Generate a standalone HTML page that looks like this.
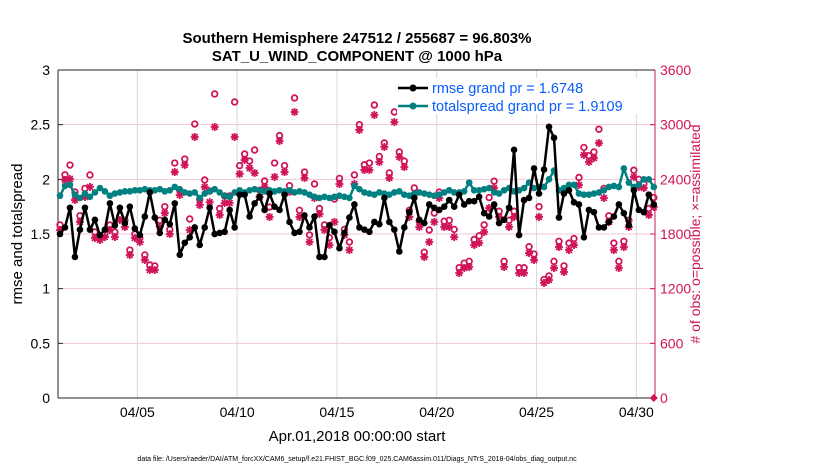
<!DOCTYPE html>
<html><head><meta charset="utf-8"><style>
body{margin:0;background:#fff}
svg{display:block;font-family:"Liberation Sans",sans-serif}
</style></head><body>
<svg id="chart" width="830" height="470" viewBox="0 0 830 470">
<rect width="830" height="470" fill="#fff"/>
<text x="357" y="43" text-anchor="middle" font-size="15" font-weight="bold">Southern Hemisphere 247512 / 255687 = 96.803%</text>
<text x="357" y="61" text-anchor="middle" font-size="15" font-weight="bold">SAT_U_WIND_COMPONENT @ 1000 hPa</text>
<g id="grid"></g>
<g id="axes"></g>
<g id="marks"></g>
<text transform="translate(22,234) rotate(-90)" text-anchor="middle" font-size="15">rmse and totalspread</text>
<text transform="translate(700,234) rotate(-90)" text-anchor="middle" font-size="14" fill="#d0145a"># of obs: o=possible; ×=assimilated</text>
<text x="357" y="441" text-anchor="middle" font-size="15">Apr.01,2018 00:00:00 start</text>
<text x="357" y="461" text-anchor="middle" font-size="7">data file: /Users/raeder/DAI/ATM_forcXX/CAM6_setup/f.e21.FHIST_BGC.f09_025.CAM6assim.011/Diags_NTrS_2018-04/obs_diag_output.nc</text>
<g id="legend">
<rect x="397" y="78" width="252" height="36" fill="#fff"/>
<line x1="398" y1="88" x2="428" y2="88" stroke="#000" stroke-width="2.5"/>
<circle cx="413" cy="88" r="3.5" fill="#000"/>
<text x="432" y="93" font-size="14.5" fill="#0a5cff">rmse grand pr = 1.6748</text>
<line x1="398" y1="106" x2="428" y2="106" stroke="#008080" stroke-width="2.5"/>
<circle cx="413" cy="106" r="3.5" fill="#008080"/>
<text x="432" y="111" font-size="14.5" fill="#0a5cff">totalspread grand pr = 1.9109</text>
</g>
</svg>
<script>
const tickDates = ["04/05","04/10","04/15","04/20","04/25","04/30"];
const tickDays = [4,9,14,19,24,29];
const leftTicks = [0,0.5,1,1.5,2,2.5,3];
const rightTicks = [0,600,1200,1800,2400,3000,3600];
const rmse = [1.50,1.56,1.74,1.29,1.54,1.74,1.54,1.63,1.49,1.54,1.78,1.58,1.74,1.60,1.75,1.55,1.49,1.66,1.88,1.65,
1.51,1.63,1.59,1.78,1.31,1.42,1.47,1.56,1.40,1.56,1.74,1.50,1.51,1.52,1.72,1.56,1.86,1.86,1.66,1.78,
1.84,1.72,1.87,1.75,1.72,1.86,1.61,1.51,1.52,1.67,1.56,1.66,1.29,1.29,1.58,1.52,1.37,1.51,1.65,1.77,
1.56,1.54,1.52,1.61,1.59,1.83,1.61,1.54,1.34,1.56,1.70,1.83,1.63,1.60,1.77,1.74,1.72,1.75,1.81,1.75,
1.86,1.77,1.80,1.80,1.84,1.69,1.66,1.77,1.60,1.63,1.74,2.27,1.49,1.81,1.83,2.10,1.87,2.09,2.48,2.38,
1.65,1.87,1.90,1.79,1.77,1.47,1.72,1.70,1.56,1.56,1.61,1.66,1.77,1.69,1.58,1.90,1.72,1.70,1.86,1.77];
const spread = [1.85,1.94,1.95,1.86,1.83,1.87,1.84,1.88,1.92,1.89,1.85,1.87,1.88,1.89,1.89,1.90,1.90,1.91,1.90,1.90,
1.91,1.89,1.90,1.93,1.91,1.88,1.87,1.88,1.83,1.87,1.89,1.91,1.88,1.85,1.84,1.88,1.90,1.88,1.90,1.91,
1.90,1.89,1.90,1.89,1.90,1.89,1.90,1.88,1.89,1.88,1.86,1.84,1.83,1.84,1.83,1.84,1.85,1.84,1.83,1.94,
1.91,1.88,1.87,1.86,1.88,1.87,1.86,1.88,1.89,1.86,1.85,1.87,1.88,1.87,1.86,1.85,1.86,1.88,1.90,1.88,
1.88,1.89,1.97,1.90,1.90,1.91,1.92,1.88,1.87,1.90,1.92,1.89,1.90,1.92,1.97,1.92,1.93,1.93,2.00,2.08,
1.90,1.92,1.95,1.95,1.87,1.86,1.86,1.87,1.88,1.90,1.93,1.94,1.93,2.10,1.97,1.93,1.95,2.00,2.00,1.93];
const assim = [1844,2393,2404,2173,1932,2206,2316,1756,1734,1767,1844,1767,1954,1877,1570,1756,1712,1515,1405,1405,
1877,2030,1800,2480,2228,2557,1844,2865,2118,2316,2150,2975,2009,2140,2140,2865,2459,2612,2524,2470,
2206,2316,1987,2426,2821,2480,2261,3139,1987,2415,1712,2195,2020,1844,1679,1932,2349,1789,1624,2349,
2942,2503,2503,3106,2590,2755,2415,3029,2645,2535,1987,2228,1877,1548,1712,1932,2195,1877,1877,1767,
1372,1427,1438,1679,1701,1822,2085,2305,1987,1438,1877,1987,1372,1372,1591,1515,1987,1262,1295,1427,
1657,1383,1624,1679,2338,2667,2590,2634,2799,2195,1932,1624,1427,1657,1877,2426,2316,2305,2009,2096];
const possible = [1900,2450,2557,2261,2000,2300,2448,1822,1780,1800,1899,1822,2000,1950,1624,1800,1760,1570,1460,1450,
1950,2100,1850,2579,2280,2623,1965,3007,2180,2393,2272,3337,2080,2217,2217,3249,2550,2678,2601,2722,
2280,2382,2096,2579,2880,2550,2330,3293,2060,2480,1790,2349,2080,1900,1760,2184,2410,1850,1712,2448,
3000,2560,2579,3216,2650,2799,2470,3139,2700,2600,2060,2305,1940,1600,1844,2030,2260,1940,1950,1850,
1430,1480,1500,1740,1780,1900,2200,2380,2050,1500,1950,2050,1430,1430,1660,1580,2100,1300,1340,1500,
1720,1450,1700,1750,2420,2750,2660,2700,2950,2300,2000,1700,1500,1720,1950,2500,2400,2350,2080,2200];

const NS='http://www.w3.org/2000/svg';
const L=58,R=655,T=70,B=398;
const xDay=d=>57.5+d*19.96;
const xIdx=i=>xDay(0.125+i*0.25);
const yL=v=>B-(v/3)*(B-T);
const yR=n=>B-(n/3600)*(B-T);
const red='#d0145a';
function mk(tag,attrs,parent){const e=document.createElementNS(NS,tag);for(const k in attrs)e.setAttribute(k,attrs[k]);parent.appendChild(e);return e;}
const grid=document.getElementById('grid'),axes=document.getElementById('axes'),marks=document.getElementById('marks');

rightTicks.forEach(t=>{
  const l=mk('line',{x1:L,x2:R,y1:yR(t),y2:yR(t),stroke:'#f3c6d8','stroke-width':1},grid);
  
  
  const tk=mk('line',{x1:R-5,x2:R,y1:yR(t),y2:yR(t),stroke:red,'stroke-width':1},axes);
  
  
  const tx=mk('text',{x:R+5,y:yR(t)+5,'font-size':14,fill:red},axes);
  tx.textContent=t;
  
  
});
tickDays.forEach((d,i)=>{
  const l=mk('line',{x1:xDay(d),x2:xDay(d),y1:T,y2:B,stroke:'#d8d8d8','stroke-width':1},grid);
  
  
  const tx=mk('text',{x:xDay(d),y:417,'font-size':14,'text-anchor':'middle'},axes);
  tx.textContent=tickDates[i];
  
  
});
leftTicks.forEach(t=>{
  const tk=mk('line',{x1:L,x2:L+5,y1:yL(t),y2:yL(t),stroke:'#222'},axes);
  
  
  const tx=mk('text',{x:L-8,y:yL(t)+5,'font-size':14,'text-anchor':'end'},axes);
  tx.textContent=t;
  
  
});
const la=mk('line',{x1:L,x2:L,y1:T,y2:B,stroke:'#222'},axes);


const ra=mk('line',{x1:R,x2:R,y1:T,y2:B,stroke:red},axes);


const ba=mk('line',{x1:L,x2:R,y1:B,y2:B,stroke:'#222'},axes);


const ta=mk('line',{x1:L,x2:R,y1:T,y2:T,stroke:'#222'},axes);



possible.forEach((n,i)=>{
  const c=mk('circle',{cx:xIdx(i),cy:yR(n),r:2.8,fill:'none',stroke:red,'stroke-width':1.8},marks);
  
  
});
assim.forEach((n,i)=>{
  const x=xIdx(i),y=yR(n),r=4;
  const d=`M${x-r},${y}H${x+r}M${x},${y-r}V${y+r}M${x-2.9},${y-2.9}L${x+2.9},${y+2.9}M${x-2.9},${y+2.9}L${x+2.9},${y-2.9}`;
  const p=mk('path',{d:d,stroke:red,'stroke-width':1.8,fill:'none'},marks);
  
  
});
const zm=mk('path',{d:`M${xIdx(119)},${B-4}l4,4l-4,4l-4,-4z`,fill:red},marks);



function series(vals,color,name){
  const pl=mk('polyline',{points:vals.map((v,i)=>xIdx(i)+','+yL(v)).join(' '),fill:'none',stroke:color,'stroke-width':2.5,'stroke-linejoin':'round'},marks);
  
  
  vals.forEach((v,i)=>{
    const c=mk('circle',{cx:xIdx(i),cy:yL(v),r:3.3,fill:color},marks);
    
    
  });
}
series(spread,'#008080','totalspread');
series(rmse,'#000000','rmse');
</script>
</body></html>
